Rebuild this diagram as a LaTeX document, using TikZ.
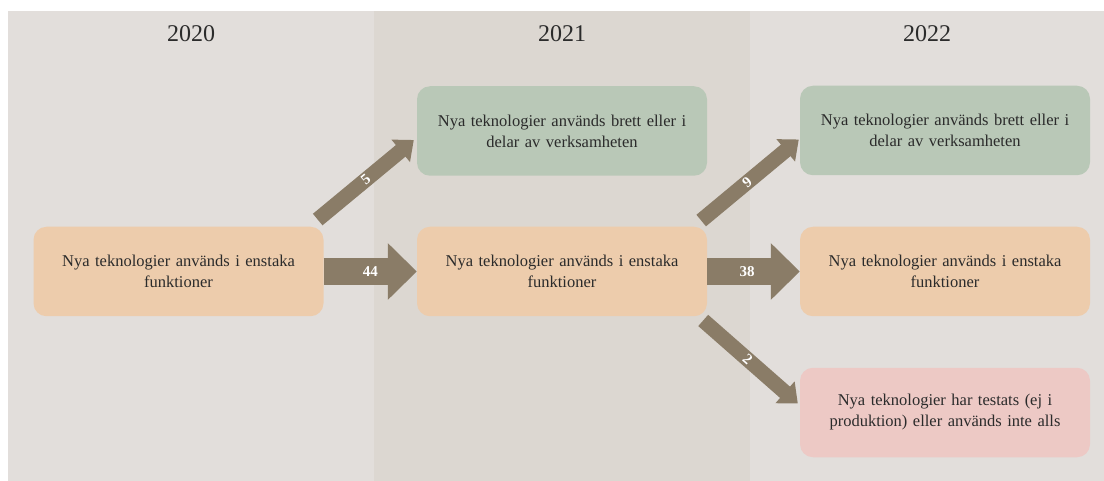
\documentclass[tikz,border=0pt]{standalone}
\usepackage{fontspec}
\setmainfont{Liberation Serif}
\usetikzlibrary{arrows.meta,calc}
\definecolor{bglight}{HTML}{E2DEDB}
\definecolor{bgdark}{HTML}{DCD7D1}
\definecolor{peach}{HTML}{EDCCAC}
\definecolor{sage}{HTML}{B9C8B7}
\definecolor{rose}{HTML}{EDC9C5}
\definecolor{arr}{HTML}{8A7C67}
\definecolor{txt}{HTML}{2B2B2B}
\begin{document}
\begin{tikzpicture}[x=1pt,y=-1pt,
  box/.style={rounded corners=13pt, minimum width=290pt, minimum height=89.5pt,
    text width=280pt, align=center, inner sep=0pt, text=txt,
    font=\fontsize{16.5}{21}\selectfont},
  year/.style={font=\fontsize{24}{28}\selectfont, text=txt},
  bigflow/.style={draw=arr, line width=27pt, -{Triangle[length=29pt,width=55pt]}},
  smallflow/.style={draw=arr, line width=15pt, -{Triangle[length=17pt,width=28pt]}},
  lbl/.style={text=white, font=\bfseries\fontsize{15}{17}\selectfont, inner sep=0pt}]
\useasboundingbox (0,0) rectangle (1104,481);
\fill[white] (0,0) rectangle (1104,481);
\fill[bglight] (8,11) rectangle (374,481);
\fill[bgdark] (374,11) rectangle (750,481);
\fill[bglight] (750,11) rectangle (1104,481);

\node[year] (y20) at (191,34) {2020};
\node[year] (y21) at (562,34) {2021};
\node[year] (y22) at (927,34) {2022};

\node[box, fill=peach] (a20) at (178.5,271.5) {Nya teknologier används i enstaka\\funktioner};
\node[box, fill=sage]  (g21) at (562,131) {Nya teknologier används brett eller i\\delar av verksamheten};
\node[box, fill=peach] (p21) at (562,271.5) {Nya teknologier används i enstaka\\funktioner};
\node[box, fill=sage]  (g22) at (945,130.5) {Nya teknologier används brett eller i\\delar av verksamheten};
\node[box, fill=peach] (p22) at (945,271.5) {Nya teknologier används i enstaka\\funktioner};
\node[box, fill=rose]  (r22) at (945,412.5) {Nya teknologier har testats (ej i\\produktion) eller används inte alls};

\draw[bigflow] (a20.east) -- node[lbl, pos=0.5]{44} (p21.west);
\draw[bigflow] (p21.east) -- node[lbl, pos=0.43]{38} (p22.west);
\draw[smallflow] ($(a20.north east)+(-6,-7)$) -- node[lbl, sloped, pos=0.5]{5} ($(g21.west)+(-3,9)$);
\draw[smallflow] ($(p21.north east)+(-6,-6)$) -- node[lbl, sloped, pos=0.47]{9} ($(g22.west)+(-1,9)$);
\draw[smallflow] ($(p21.south east)+(-4,4)$) -- node[lbl, sloped, pos=0.47]{2} ($(r22.west)+(-2,-9)$);
\end{tikzpicture}
\end{document}
